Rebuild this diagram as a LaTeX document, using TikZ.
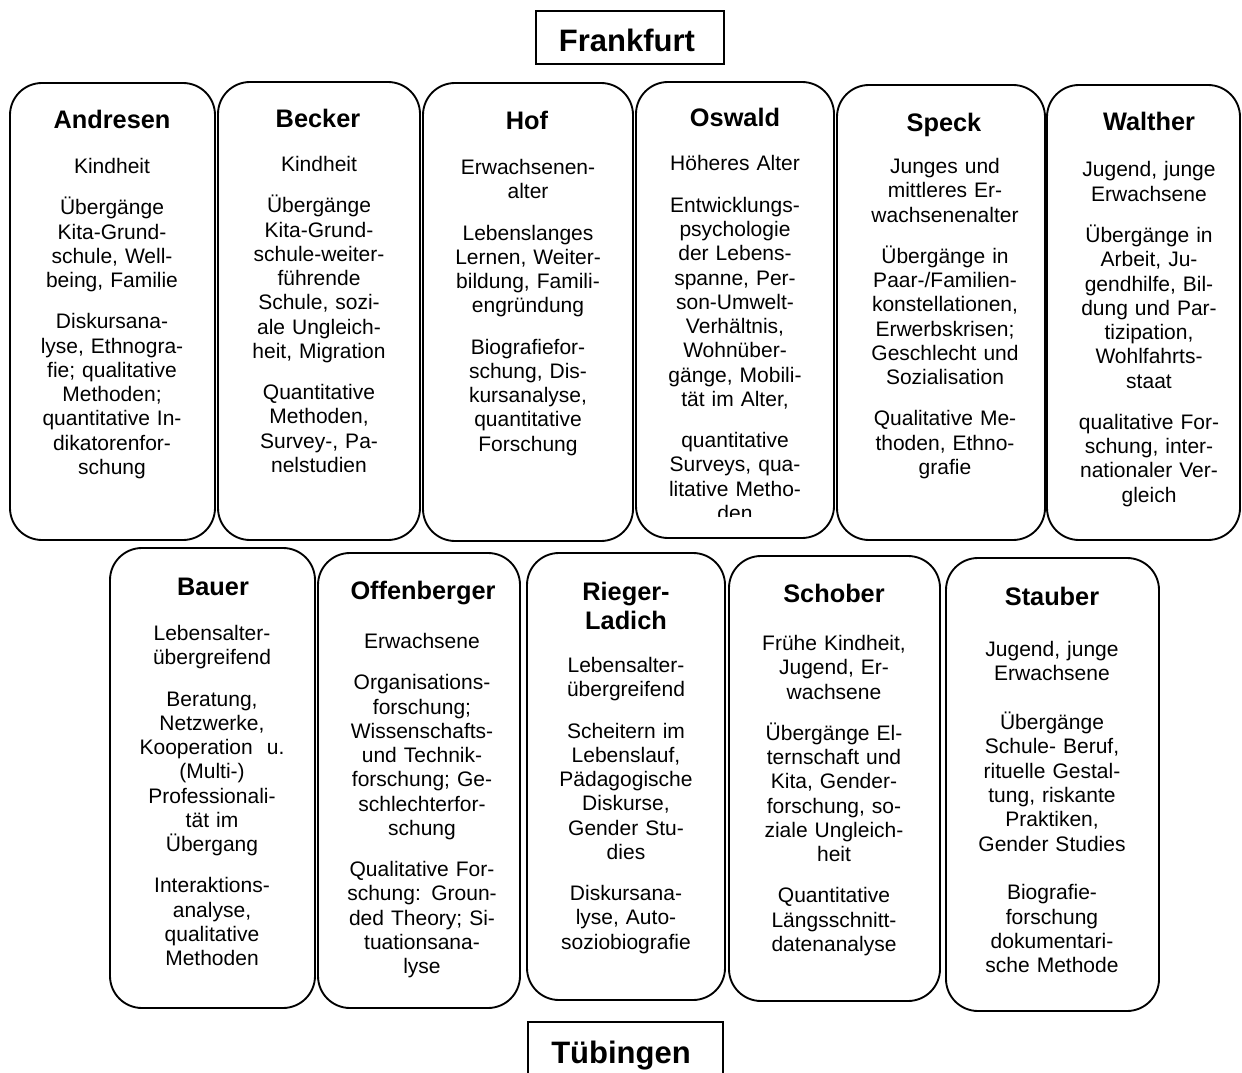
\documentclass[tikz,border=0pt]{standalone}
\usepackage{fontspec}
\setmainfont{Liberation Sans}
\usetikzlibrary{fit}
\newcommand\mypgap{\\[12.75pt]}
\newcommand\mybiggap{\\[18.5pt]}
\tikzset{
  card/.style={draw, line width=1.4pt, rounded corners=24pt, inner sep=0pt},
  cityframe/.style={draw, line width=1.1pt, inner sep=0pt},
  ttl/.style={anchor=base, inner sep=0pt, align=center, text width=200pt, font=\bfseries\fontsize{19}{21.75}\selectfont},
  bdy/.style={anchor=base, inner sep=0pt, align=center, text width=200pt, font=\fontsize{15.75}{18.2}\selectfont},
  city/.style={anchor=base, inner sep=0pt, font=\bfseries\fontsize{23.25}{27}\selectfont},
}
\begin{document}
\begin{tikzpicture}[x=0.75pt,y=-0.75pt]
\useasboundingbox (0,0) rectangle (1242,1073);
\clip (0,0) rectangle (1242,1073);

% city labels
\node[cityframe, fit={(536,11) (724,64)}] (frankfurtBox) {};
\node[city] (frankfurt) at (627,52) {Frankfurt};
\node[cityframe, fit={(528,1022) (723,1090)}] (tuebingenBox) {};
\node[city] (tuebingen) at (621,1063) {Tübingen};

% top row boxes
\node[card, fit={(10,83) (215,540)}] (andresenBox) {};
\node[card, fit={(218,82) (420,540)}] (beckerBox) {};
\node[card, fit={(423,83) (633,541)}] (hofBox) {};
\node[card, fit={(636,82) (834,538)}] (oswaldBox) {};
\node[card, fit={(837,85) (1045,540)}] (speckBox) {};
\node[card, fit={(1047,85) (1240,540)}] (waltherBox) {};

% bottom row boxes
\node[card, fit={(110,548) (315,1008)}] (bauerBox) {};
\node[card, fit={(318,553) (520,1008)}] (offenbergerBox) {};
\node[card, fit={(527,553) (725,1000)}] (riegerBox) {};
\node[card, fit={(729,556) (940,1001)}] (schoberBox) {};
\node[card, fit={(946,558) (1159,1011)}] (stauberBox) {};

% Andresen
\node[ttl] (andresenT) at (112,129) {Andresen};
\node[bdy] (andresenB) at (112,173.5) {Kindheit\mypgap
Übergänge\\Kita-Grund-\\schule, Well-\\being, Familie\mypgap
Diskursana-\\lyse, Ethnogra-\\fie; qualitative\\Methoden;\\quantitative In-\\dikatorenfor-\\schung};

% Becker
\node[ttl] (beckerT) at (318,128) {Becker};
\node[bdy] (beckerB) at (319,171.5) {Kindheit\mypgap
Übergänge\\Kita-Grund-\\schule-weiter-\\führende\\Schule, sozi-\\ale Ungleich-\\heit, Migration\mypgap
Quantitative\\Methoden,\\Survey-, Pa-\\nelstudien};

% Hof
\node[ttl] (hofT) at (527,130) {Hof};
\node[bdy] (hofB) at (528,174.5) {Erwachsenen-\\alter\mypgap
Lebenslanges\\Lernen, Weiter-\\bildung, Famili-\\engründung\mypgap
Biografiefor-\\schung, Dis-\\kursanalyse,\\quantitative\\Forschung};

% Oswald (text clipped by the box)
\node[ttl] (oswaldT) at (735,127) {Oswald};
\begin{scope}
\clip (636,82) rectangle (834,516);
\node[bdy] (oswaldB) at (735,171) {Höheres Alter\mypgap
Entwicklungs-\\psychologie\\der Lebens-\\spanne, Per-\\son-Umwelt-\\Verhältnis,\\Wohnüber-\\gänge, Mobili-\\tät im Alter,\mypgap
quantitative\\Surveys, qua-\\litative Metho-\\den};
\end{scope}

% Speck
\node[ttl] (speckT) at (944,132) {Speck};
\node[bdy] (speckB) at (945,173.5) {Junges und\\mittleres Er-\\wachsenenalter\mypgap
Übergänge in\\Paar-/Familien-\\konstellationen,\\Erwerbskrisen;\\Geschlecht und\\Sozialisation\mypgap
Qualitative Me-\\thoden, Ethno-\\grafie};

% Walther
\node[ttl] (waltherT) at (1149,131) {Walther};
\node[bdy] (waltherB) at (1149,177) {Jugend, junge\\Erwachsene\mypgap
Übergänge in\\Arbeit, Ju-\\gendhilfe, Bil-\\dung und Par-\\tizipation,\\Wohlfahrts-\\staat\mypgap
qualitative For-\\schung, inter-\\nationaler Ver-\\gleich};

% Bauer
\node[ttl] (bauerT) at (213,595) {Bauer};
\node[bdy] (bauerB) at (212,640.5) {Lebensalter-\\übergreifend\mypgap
Beratung,\\Netzwerke,\\Kooperation\ \ u.\\(Multi-)\\Professionali-\\tät im\\Übergang\mypgap
Interaktions-\\analyse,\\qualitative\\Methoden};

% Offenberger
\node[ttl] (offenbergerT) at (423,599) {Offenberger};
\node[bdy] (offenbergerB) at (422,648.5) {Erwachsene\mypgap
Organisations-\\forschung;\\Wissenschafts-\\und Technik-\\forschung; Ge-\\schlechterfor-\\schung\mypgap
Qualitative For-\\schung: Groun-\\ded Theory; Si-\\tuationsana-\\lyse};

% Rieger-Ladich
\node[ttl] (riegerT) at (626,600) {Rieger-\\Ladich};
\node[bdy] (riegerB) at (626,672.5) {Lebensalter-\\übergreifend\mypgap
Scheitern im\\Lebenslauf,\\Pädagogische\\Diskurse,\\Gender Stu-\\dies\mypgap
Diskursana-\\lyse, Auto-\\soziobiografie};

% Schober
\node[ttl] (schoberT) at (834,602) {Schober};
\node[bdy] (schoberB) at (834,650.5) {Frühe Kindheit,\\Jugend, Er-\\wachsene\mypgap
Übergänge El-\\ternschaft und\\Kita, Gender-\\forschung, so-\\ziale Ungleich-\\heit\mypgap
Quantitative\\Längsschnitt-\\datenanalyse};

% Stauber
\node[ttl] (stauberT) at (1052,605) {Stauber};
\node[bdy] (stauberB) at (1052,656.5) {Jugend, junge\\Erwachsene\mybiggap
Übergänge\\Schule- Beruf,\\rituelle Gestal-\\tung, riskante\\Praktiken,\\Gender Studies\mybiggap
Biografie-\\forschung\\dokumentari-\\sche Methode};
\end{tikzpicture}
\end{document}
